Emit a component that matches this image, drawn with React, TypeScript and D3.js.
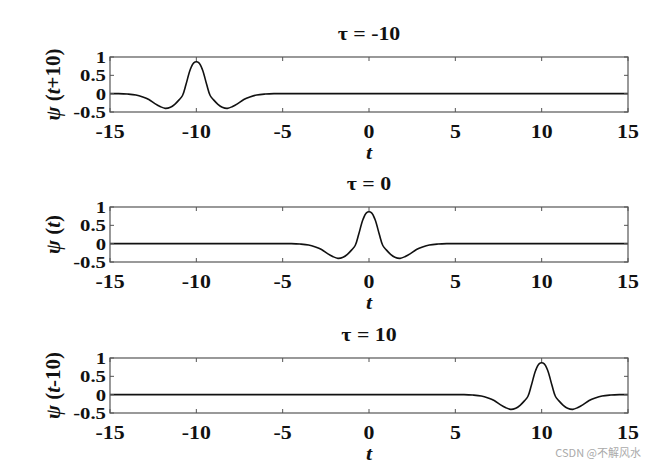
import React, { useEffect, useRef } from 'react'
import * as d3 from 'd3'

// wavelet shape: offset from the centre -> psi
const shapeT = [-5.5, -4.5, -4, -3.5, -3.1, -2.75, -2.4, -2.1, -1.8, -1.5, -1.25, -1, -0.8, -0.6, -0.35, -0.15, 0,
  0.15, 0.35, 0.6, 0.8, 1, 1.25, 1.5, 1.8, 2.1, 2.4, 2.75, 3.1, 3.5, 4, 4.5, 5.5]
const shapeY = [0, 0, -0.01, -0.035, -0.09, -0.16, -0.27, -0.35, -0.4, -0.37, -0.29, -0.17, -0.05, 0.25, 0.66, 0.84, 0.87,
  0.84, 0.66, 0.25, -0.05, -0.17, -0.29, -0.37, -0.4, -0.35, -0.27, -0.16, -0.09, -0.035, -0.01, 0, 0]

const taus = [-10, 0, 10]
const titles = ['τ = -10', 'τ = 0', 'τ = 10']
const yLabels = ['ψ (t+10)', 'ψ (t)', 'ψ (t-10)']
const xTicks = [-15, -10, -5, 0, 5, 10, 15]
const yTicks = [1, 0.5, 0, -0.5]

const panelTops = [57, 207, 358]
const left = 110
const right = 628
const panelH = 55
const font = '"Liberation Serif", "Times New Roman", serif'

function Chart() {
  const ref = useRef<SVGSVGElement>(null)

  useEffect(() => {
    const svg = d3.select(ref.current)
    svg.selectAll('*').remove()
    const x = d3.scaleLinear().domain([-15, 15]).range([left, right])

    taus.forEach((tau, i) => {
      const top = panelTops[i]
      const y = d3.scaleLinear().domain([-0.5, 1]).range([top + panelH, top])
      const g = svg.append('g')

      const pts: [number, number][] = [[-15, 0]]
      shapeT.forEach((t, k) => {
        const tt = t + tau
        if (tt > -15 && tt < 15) pts.push([tt, shapeY[k]])
      })
      pts.push([15, 0])

      g.append('path')
        .datum(pts)
        .attr('fill', 'none')
        .attr('stroke', '#111')
        .attr('stroke-width', 1.6)
        .attr('d', d3.line<[number, number]>()
          .x(d => x(d[0]))
          .y(d => y(d[1]))
          .curve(d3.curveCatmullRom.alpha(0.5)))

      g.append('rect')
        .attr('x', left).attr('y', top)
        .attr('width', right - left).attr('height', panelH)
        .attr('fill', 'none').attr('stroke', '#555').attr('stroke-width', 1.2)

      xTicks.forEach(v => {
        g.append('line').attr('x1', x(v)).attr('x2', x(v))
          .attr('y1', top).attr('y2', top + 4).attr('stroke', '#555')
        g.append('line').attr('x1', x(v)).attr('x2', x(v))
          .attr('y1', top + panelH).attr('y2', top + panelH - 4).attr('stroke', '#555')
        g.append('text')
          .attr('transform', `translate(${x(v)},${top + panelH + 26}) scale(1.15,1)`)
          .attr('text-anchor', 'middle')
          .text(v)
      })

      yTicks.forEach(v => {
        g.append('line').attr('x1', left).attr('x2', left + 4)
          .attr('y1', y(v)).attr('y2', y(v)).attr('stroke', '#555')
        g.append('line').attr('x1', right).attr('x2', right - 4)
          .attr('y1', y(v)).attr('y2', y(v)).attr('stroke', '#555')
        g.append('text')
          .attr('transform', `translate(106,${y(v) + 6}) scale(1.22,1)`)
          .attr('text-anchor', 'end')
          .attr('font-size', 17)
          .text(v)
      })

      g.append('text')
        .attr('transform', `translate(${x(0)},${top - 17}) scale(1.15,1)`)
        .attr('text-anchor', 'middle')
        .text(titles[i])

      g.append('text')
        .attr('transform', `translate(${x(0)},${top + panelH + 47}) scale(1.15,1)`)
        .attr('text-anchor', 'middle')
        .attr('font-style', 'italic')
        .text('t')

      const yl = g.append('text')
        .attr('transform', `translate(60,${top + panelH / 2}) rotate(-90)`)
        .attr('text-anchor', 'middle')
        .attr('font-size', 21)
      const parts = yLabels[i].match(/^(ψ)( \()(t)(.*)$/)!
      yl.append('tspan').attr('font-style', 'italic').text(parts[1])
      yl.append('tspan').text(parts[2])
      yl.append('tspan').attr('font-style', 'italic').text(parts[3])
      yl.append('tspan').text(parts[4])
    })

    svg.append('text')
      .attr('x', 641).attr('y', 457)
      .attr('text-anchor', 'end')
      .attr('font-family', '"Noto Sans CJK SC", sans-serif')
      .attr('font-weight', 'normal')
      .attr('font-size', 11)
      .attr('fill', '#aaa')
      .text('CSDN @不解风水')
  }, [])

  return (
    <svg ref={ref} width={647} height={465}
      style={{ position: 'absolute', left: 0, top: 0, background: '#fff' }}
      fontFamily={font} fontWeight="bold" fontSize={19} fill="#111" />
  )
}

export default function App() {
  return <Chart />
}
